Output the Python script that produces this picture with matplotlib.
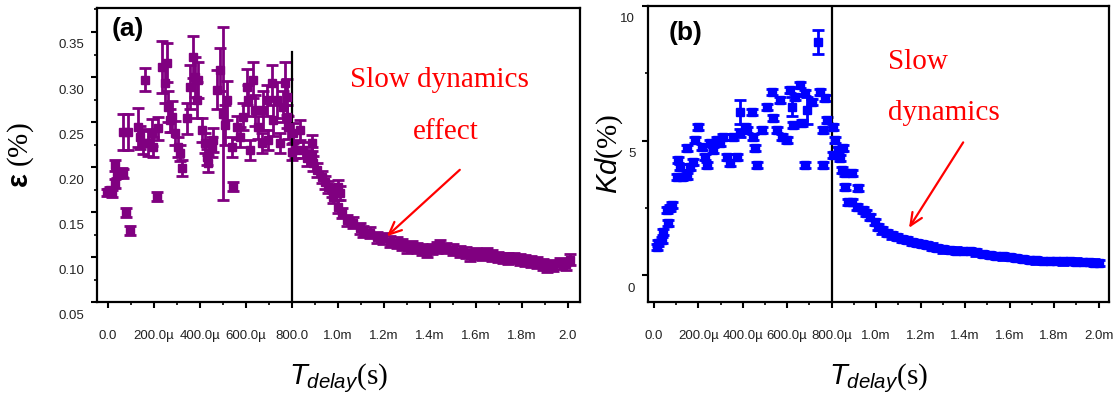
import matplotlib
matplotlib.use('Agg')
import matplotlib.pyplot as plt
from matplotlib.ticker import MultipleLocator
from matplotlib.transforms import ScaledTranslation

plt.rcParams['font.family'] = 'Liberation Sans'
plt.rcParams['mathtext.fontset'] = 'custom'
plt.rcParams['mathtext.it'] = 'Liberation Sans:italic'
plt.rcParams['mathtext.bf'] = 'Liberation Sans:bold'
plt.rcParams['mathtext.rm'] = 'Liberation Serif'

# ---- panel (a): strain epsilon (%) vs delay time (us) ----
t_a = [-4, 9, 17, 30, 30, 39, 61, 65, 78, 96, 65, 87, 130, 139, 161, 152, 174, 191, 196, 213,
       217, 235, 248, 257, 261, 270, 278, 291, 304, 313, 322, 343, 357, 370, 378, 387, 391, 409,
       422, 430, 435, 452, 457, 474, 487, 500, 509, 517, 539, 543, 561, 574, 587, 604, 609, 617,
       630, 639, 652, 670, 674, 691, 696, 713, 717, 735, 748, 761, 770, 778, 783, 800,
       778, 804, 813, 835, 848, 865, 887, 887, 891, 909, 930, 944, 957, 974, 978, 1000, 1009,
       1000, 1017, 1039, 1065, 1096, 1109, 1139, 1170, 1196, 1226, 1257, 1280, 1300, 1322, 1344,
       1365, 1387, 1410, 1430, 1444, 1470, 1500, 1530, 1555, 1574, 1600, 1625, 1648, 1670, 1695,
       1717, 1740, 1765, 1791, 1815, 1840, 1865, 1890, 1909, 1935, 1965, 1990, 2009]
eps_a = [0.172, 0.174, 0.171, 0.182, 0.202, 0.193, 0.194, 0.193, 0.150, 0.130, 0.239, 0.239,
         0.244, 0.233, 0.297, 0.227, 0.227, 0.238, 0.222, 0.167, 0.243, 0.311, 0.293, 0.316,
         0.267, 0.252, 0.256, 0.238, 0.222, 0.216, 0.199, 0.254, 0.289, 0.322, 0.300, 0.274,
         0.297, 0.241, 0.227, 0.211, 0.204, 0.222, 0.230, 0.286, 0.308, 0.259, 0.247, 0.274,
         0.222, 0.178, 0.244, 0.233, 0.256, 0.289, 0.274, 0.219, 0.297, 0.263, 0.244, 0.227,
         0.263, 0.274, 0.230, 0.293, 0.252, 0.274, 0.227, 0.267, 0.293, 0.278, 0.244, 0.217,
         0.256, 0.238, 0.219, 0.241, 0.219, 0.210, 0.227, 0.213, 0.204, 0.197, 0.189, 0.183,
         0.178, 0.174, 0.167, 0.178, 0.171, 0.156, 0.149, 0.141, 0.138, 0.132, 0.128, 0.127,
         0.122, 0.121, 0.117, 0.116, 0.114, 0.111, 0.112, 0.110, 0.108, 0.106, 0.109, 0.111,
         0.113, 0.110, 0.108, 0.106, 0.105, 0.102, 0.104, 0.103, 0.104, 0.102, 0.100, 0.099,
         0.098, 0.099, 0.097, 0.096, 0.095, 0.094, 0.092, 0.089, 0.091, 0.093, 0.092, 0.097]
err_a = [0.004, 0.004, 0.004, 0.005, 0.006, 0.005, 0.005, 0.005, 0.005, 0.005, 0.020, 0.020,
         0.022, 0.013, 0.013, 0.013, 0.015, 0.015, 0.011, 0.005, 0.013, 0.029, 0.022, 0.022,
         0.017, 0.013, 0.017, 0.013, 0.011, 0.009, 0.009, 0.017, 0.024, 0.023, 0.022, 0.020,
         0.020, 0.013, 0.011, 0.009, 0.009, 0.011, 0.013, 0.022, 0.024, 0.096, 0.022, 0.022,
         0.011, 0.005, 0.013, 0.011, 0.015, 0.020, 0.017, 0.011, 0.020, 0.017, 0.013, 0.011,
         0.022, 0.017, 0.011, 0.020, 0.017, 0.020, 0.011, 0.017, 0.024, 0.020, 0.013, 0.009,
         0.013, 0.011, 0.009, 0.011, 0.009, 0.009, 0.009, 0.009, 0.008, 0.008, 0.007, 0.007,
         0.007, 0.007, 0.007, 0.008, 0.008, 0.007, 0.006, 0.006, 0.006, 0.006, 0.006, 0.006,
         0.006, 0.006, 0.006, 0.006, 0.006, 0.006, 0.006, 0.006, 0.006, 0.006, 0.006, 0.006,
         0.006, 0.006, 0.006, 0.006, 0.006, 0.006, 0.006, 0.006, 0.006, 0.006, 0.006, 0.006,
         0.006, 0.006, 0.006, 0.006, 0.006, 0.006, 0.006, 0.006, 0.006, 0.006, 0.006, 0.006]

# ---- panel (b): Kd (%) vs delay time (us) ----
t_b = [13, 18, 36, 40, 63, 58, 72, 81, 103, 126, 148, 117, 162, 108, 175, 184, 198, 148, 216,
       229, 238, 252, 265, 283, 297, 310, 328, 342, 373, 355, 386, 386, 409, 440, 418, 445, 454,
       463, 485, 508, 530, 535, 553, 566, 575, 598, 611, 620, 625, 634, 656, 665, 679, 688, 679,
       710, 737, 746, 768, 759, 777, 759, 804, 813, 804, 827, 836, 849, 845, 858, 858, 872, 890,
       890, 912, 917, 939, 955, 971, 993, 1007, 1025, 1047, 1070, 1092, 1115, 1137, 1160, 1182,
       1205, 1227, 1250, 1272, 1300, 1330, 1360, 1390, 1420, 1450, 1480, 1510, 1540, 1570, 1600,
       1630, 1660, 1690, 1720, 1750, 1780, 1810, 1840, 1870, 1900, 1930, 1959, 1980, 2004]
kd_b = [1.04, 1.19, 1.30, 1.60, 1.93, 2.42, 2.49, 2.60, 3.64, 3.64, 3.68, 4.01, 4.01, 4.28,
        4.20, 5.02, 5.50, 4.72, 4.76, 4.39, 4.09, 4.91, 4.65, 5.02, 4.91, 5.13, 4.39, 4.16,
        4.39, 5.13, 5.28, 6.06, 5.50, 6.06, 5.39, 5.13, 4.72, 4.09, 5.39, 6.25, 6.80, 5.84,
        5.39, 6.51, 5.13, 5.02, 6.88, 6.25, 5.58, 6.62, 7.06, 5.65, 6.77, 6.13, 4.09, 6.43,
        8.66, 6.80, 6.58, 4.09, 5.76, 5.39, 5.50, 5.02, 4.46, 4.65, 4.35, 4.72, 3.90, 3.79,
        3.27, 2.71, 3.79, 2.71, 2.53, 3.23, 2.42, 2.30, 2.16, 1.97, 1.78, 1.66, 1.56, 1.48,
        1.41, 1.35, 1.30, 1.24, 1.19, 1.15, 1.12, 1.06, 1.00, 0.96, 0.93, 0.91, 0.90, 0.89,
        0.85, 0.79, 0.74, 0.72, 0.70, 0.67, 0.63, 0.60, 0.56, 0.55, 0.53, 0.52, 0.52, 0.51,
        0.52, 0.50, 0.49, 0.48, 0.47, 0.45]
err_b = [0.12] * 30 + [0.15, 0.45] + [0.12] * 15 + [0.35] + [0.12] * 5 + [0.50] + [0.12] * 2 \
        + [0.45] + [0.12] * (len(kd_b) - 57)

x_major = [0, 200, 400, 600, 800, 1000, 1200, 1400, 1600, 1800, 2000]
x_labels_a = ['0.0', '200.0\u00b5', '400.0\u00b5', '600.0\u00b5', '800.0', '1.0m', '1.2m',
              '1.4m', '1.6m', '1.8m', '2.0']
x_labels_b = ['0.0', '200.0\u00b5', '400.0\u00b5', '600.0\u00b5', '800.0\u00b5', '1.0m', '1.2m',
              '1.4m', '1.6m', '1.8m', '2.0m']
y_major_a = [0.05, 0.10, 0.15, 0.20, 0.25, 0.30, 0.35]
y_major_b = [0, 5, 10]

fig = plt.figure(figsize=(11.15, 3.98), dpi=100)
ax1 = fig.add_axes([0.087, 0.241, 0.433, 0.739])
ax2 = fig.add_axes([0.581, 0.241, 0.414, 0.744])


def style_axes(ax, xlabels):
    for s in ax.spines.values():
        s.set_linewidth(1.6)
    ax.set_xticks(x_major)
    ax.set_xticklabels(xlabels)
    ax.xaxis.set_minor_locator(MultipleLocator(100))
    ax.tick_params(which='major', direction='out', length=4, width=1.5, labelsize=9.5)
    ax.tick_params(which='minor', direction='out', length=2.5, width=1.2)
    ax.tick_params(axis='x', pad=16)
    ax.tick_params(axis='y', pad=5)
    # y tick labels sit a little below their ticks
    off = ScaledTranslation(0, -0.12, fig.dpi_scale_trans)
    for lab in ax.get_yticklabels():
        lab.set_transform(lab.get_transform() + off)
        lab.set_color('#222222')
    for lab in ax.get_xticklabels():
        lab.set_color('#222222')


bar_style = dict(fmt='s', ms=5.5, elinewidth=2.0, capsize=4.5, capthick=2.0)

# panel (a)
ax1.errorbar(t_a, eps_a, yerr=err_a, color='#800080', **bar_style)
ax1.axvline(800, ymax=0.85, color='black', lw=1.6)
ax1.set_xlim(-48, 2052)
ax1.set_ylim(0.05, 0.3767)
ax1.set_yticks(y_major_a)
ax1.set_yticklabels(['%.2f' % v for v in y_major_a])
ax1.yaxis.set_minor_locator(MultipleLocator(0.025))
style_axes(ax1, x_labels_a)
ax1.text(0.03, 0.93, '(a)', transform=ax1.transAxes, fontsize=19, fontweight='bold',
         va='center', ha='left')
ax1.text(1443, 0.297, 'Slow dynamics', color='red', fontsize=21, family='Liberation Serif',
         ha='center', va='center')
ax1.text(1470, 0.239, 'effect', color='red', fontsize=21, family='Liberation Serif',
         ha='center', va='center')
ax1.annotate('', xy=(1204, 0.121), xytext=(1539, 0.199),
             arrowprops=dict(arrowstyle='->,head_length=0.9,head_width=0.4', color='red', lw=1.6))
ax1.set_xlabel(r'$T_{delay}$(s)', fontsize=21, family='Liberation Serif', labelpad=14)
ax1.set_ylabel(r'$\mathbf{\varepsilon}$ (%)', fontsize=21, family='Liberation Serif',
               labelpad=16)

# panel (b)
ax2.errorbar(t_b, kd_b, yerr=err_b, color='#0000FF', **bar_style)
ax2.axvline(800, color='black', lw=1.6)
ax2.set_xlim(-27, 2049)
ax2.set_ylim(-1.0, 10.0)
ax2.set_yticks(y_major_b)
ax2.set_yticklabels(['%d' % v for v in y_major_b])
ax2.yaxis.set_minor_locator(MultipleLocator(2.5))
style_axes(ax2, x_labels_b)
ax2.text(0.045, 0.91, '(b)', transform=ax2.transAxes, fontsize=19, fontweight='bold',
         va='center', ha='left')
ax2.text(1052, 7.92, 'Slow', color='red', fontsize=21, family='Liberation Serif',
         ha='left', va='center')
ax2.text(1052, 6.02, 'dynamics', color='red', fontsize=21, family='Liberation Serif',
         ha='left', va='center')
ax2.annotate('', xy=(1141, 1.67), xytext=(1398, 5.02),
             arrowprops=dict(arrowstyle='->,head_length=0.9,head_width=0.4', color='red', lw=1.6))
ax2.set_xlabel(r'$T_{delay}$(s)', fontsize=21, family='Liberation Serif', labelpad=14)
ax2.set_ylabel(r'$Kd$(%)', fontsize=21, family='Liberation Serif', labelpad=-3)

fig.savefig('out.png', dpi=100)
